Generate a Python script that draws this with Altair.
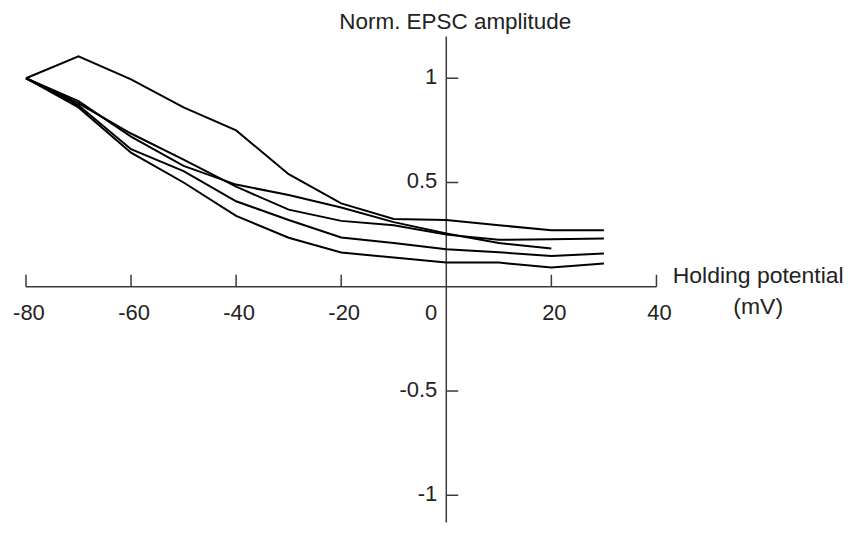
import altair as alt
import pandas as pd

# ---- data ----
volts = [-80, -70, -60, -50, -40, -30, -20, -10, 0, 10, 20, 30]
trace_a = [1.0, 1.105, 0.995, 0.86, 0.75, 0.54, 0.40, 0.325, 0.32, 0.295, 0.271, 0.271]
trace_b = [1.0, 0.89, 0.72, 0.58, 0.49, 0.44, 0.38, 0.31, 0.255, 0.21, 0.184]
trace_c = [1.0, 0.88, 0.735, 0.61, 0.48, 0.37, 0.316, 0.295, 0.25, 0.225, 0.228, 0.232]
trace_d = [1.0, 0.87, 0.66, 0.555, 0.41, 0.32, 0.236, 0.21, 0.18, 0.165, 0.148, 0.16]
trace_e = [1.0, 0.86, 0.643, 0.50, 0.34, 0.235, 0.164, 0.14, 0.116, 0.116, 0.092, 0.112]

x_ticks = [-80, -60, -40, -20, 20, 40]
x_tick_labels = ["-80", "-60", "-40", "-20", "20", "40"]
zero_label = "0"
y_ticks = [1, 0.5, -0.5, -1]
y_tick_labels = ["1", "0.5", "-0.5", "-1"]
x_extent = [-80, 40]
y_extent = [1.2, -1.13]
y_title = "Norm. EPSC amplitude"
x_title = ["Holding potential", "(mV)"]

FONT = "Liberation Sans"
TXT = "#222222"
AX = "#3a3a3a"

rows = []
for name, vals in [("a", trace_a), ("b", trace_b), ("c", trace_c), ("d", trace_d), ("e", trace_e)]:
    for v, a in zip(volts, vals):
        rows.append({"series": name, "v": v, "amp": a})
df_lines = pd.DataFrame(rows)

xs = alt.Scale(domain=[-80, 40], nice=False, zero=False)
ys = alt.Scale(domain=[-1.13, 1.2], nice=False, zero=False)

lines = alt.Chart(df_lines).mark_line(color="black", strokeWidth=2).encode(
    x=alt.X("v:Q", scale=xs, axis=None),
    y=alt.Y("amp:Q", scale=ys, axis=None),
    detail="series:N",
)

# axis lines
df_xaxis = pd.DataFrame({"x1": [x_extent[0]], "x2": [x_extent[1]], "y0": [0]})
xaxis = alt.Chart(df_xaxis).mark_rule(color=AX, strokeWidth=1.5).encode(
    x=alt.X("x1:Q", scale=xs, axis=None), x2="x2:Q", y=alt.Y("y0:Q", scale=ys, axis=None)
)
df_yaxis = pd.DataFrame({"x0": [0], "y1": [y_extent[0]], "y2": [y_extent[1]]})
yaxis = alt.Chart(df_yaxis).mark_rule(color=AX, strokeWidth=1.5).encode(
    x=alt.X("x0:Q", scale=xs, axis=None), y=alt.Y("y1:Q", scale=ys, axis=None), y2="y2:Q"
)

# ticks
df_xt = pd.DataFrame({"v": x_ticks, "lab": x_tick_labels, "zero": [0] * len(x_ticks)})
xticks = alt.Chart(df_xt).mark_rule(color=AX, strokeWidth=1.5, y2Offset=-12).encode(
    x=alt.X("v:Q", scale=xs, axis=None), y=alt.Y("zero:Q", scale=ys, axis=None), y2="zero:Q"
)
xlabels = alt.Chart(df_xt).mark_text(
    align="center", baseline="alphabetic", dx=3, dy=33, fontSize=22, font=FONT, color=TXT
).encode(x=alt.X("v:Q", scale=xs, axis=None), y=alt.Y("zero:Q", scale=ys, axis=None), text="lab:N")

df_zero = pd.DataFrame({"v": [0], "zero": [0], "lab": [zero_label]})
zlabel = alt.Chart(df_zero).mark_text(
    align="right", baseline="alphabetic", dx=-9, dy=33, fontSize=22, font=FONT, color=TXT
).encode(x=alt.X("v:Q", scale=xs, axis=None), y=alt.Y("zero:Q", scale=ys, axis=None), text="lab:N")

df_yt = pd.DataFrame({"val": y_ticks, "lab": y_tick_labels, "zero": [0] * len(y_ticks)})
yticks = alt.Chart(df_yt).mark_rule(color=AX, strokeWidth=1.5, x2Offset=12).encode(
    x=alt.X("zero:Q", scale=xs, axis=None), x2="zero:Q", y=alt.Y("val:Q", scale=ys, axis=None)
)
ylabels = alt.Chart(df_yt).mark_text(
    align="right", baseline="middle", dx=-9, dy=-1, fontSize=22, font=FONT, color=TXT
).encode(x=alt.X("zero:Q", scale=xs, axis=None), y=alt.Y("val:Q", scale=ys, axis=None), text="lab:N")

# titles
df_yt_title = pd.DataFrame({"x": [0], "y": [y_extent[0]], "t": [y_title]})
ytitle = alt.Chart(df_yt_title).mark_text(
    align="center", baseline="alphabetic", dx=9, dy=-8, fontSize=22.5, font=FONT, color=TXT
).encode(x=alt.X("x:Q", scale=xs, axis=None), y=alt.Y("y:Q", scale=ys, axis=None), text="t:N")

df_xt_title = pd.DataFrame({"x": [x_extent[1]], "y": [0], "t": [x_title[0]]})
xtitle1 = alt.Chart(df_xt_title).mark_text(
    align="center", baseline="alphabetic", dx=102, dy=-3.5, fontSize=23, font=FONT, color=TXT
).encode(x=alt.X("x:Q", scale=xs, axis=None), y=alt.Y("y:Q", scale=ys, axis=None), text="t:N")
df_xt_title2 = pd.DataFrame({"x": [x_extent[1]], "y": [0], "t": [x_title[1]]})
xtitle2 = alt.Chart(df_xt_title2).mark_text(
    align="center", baseline="alphabetic", dx=102, dy=27.5, fontSize=23, font=FONT, color=TXT
).encode(x=alt.X("x:Q", scale=xs, axis=None), y=alt.Y("y:Q", scale=ys, axis=None), text="t:N")

chart = alt.layer(
    xaxis, yaxis, xticks, yticks, lines, xlabels, zlabel, ylabels, ytitle, xtitle1, xtitle2
).properties(
    width=632,
    height=487,
    padding={"left": 18, "top": 28, "right": 190, "bottom": 0},
    autosize=alt.AutoSizeParams(type="none"),
    background="white",
).configure_view(stroke=None)

chart.save("out.html", embed_options={"renderer": "svg", "actions": False})
